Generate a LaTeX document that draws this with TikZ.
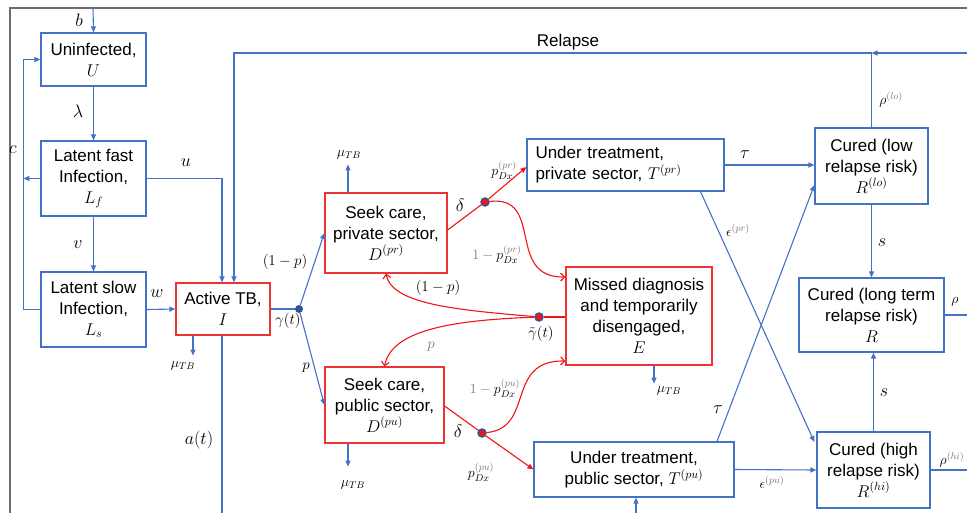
\RequirePackage{fix-cm}
\documentclass[tikz,border=0pt]{standalone}
\usepackage[no-math]{fontspec}
\setmainfont{Liberation Sans}
\usetikzlibrary{arrows.meta}
\definecolor{tbblue}{RGB}{68,114,196}
\definecolor{tbred}{RGB}{236,52,52}
\definecolor{lnred}{RGB}{240,20,20}
\definecolor{labbrown}{RGB}{140,112,112}
\definecolor{dotblue}{RGB}{47,85,151}
\definecolor{framegray}{RGB}{110,110,110}
\newcommand\boxfont{\fontsize{17}{21}\selectfont}
\newcommand\labfont{\fontsize{18}{20}\selectfont}
\newcommand\midfont{\fontsize{15}{17}\selectfont}
\newcommand\smlfont{\fontsize{14}{16}\selectfont}
\newcommand\br[1]{{\color{labbrown}#1}}
\begin{document}
\begin{tikzpicture}[x=1pt,y=-1pt,
  box/.style={draw=tbblue, line width=1.2pt, align=center, font=\boxfont, inner sep=2pt, text=black},
  rbox/.style={box, draw=tbred},
  bl/.style={draw=tbblue, line width=1.1pt},
  ar/.style={bl, -{Triangle[length=6pt,width=5pt]}},
  rl/.style={draw=lnred, line width=1.1pt},
  rar/.style={rl, -{Triangle[length=6pt,width=5pt]}},
  rcar/.style={rl, -{Straight Barb[length=4pt,width=8pt]}},
  dot/.style={circle, fill=dotblue, inner sep=0pt, minimum size=8pt},
  rdot/.style={circle, draw=dotblue, fill=lnred, line width=1.4pt, inner sep=0pt, minimum size=8pt},
  lab/.style={font=\labfont, inner sep=0pt},
  mlab/.style={font=\midfont, inner sep=0pt},
  slab/.style={font=\smlfont, inner sep=0pt},
]
\useasboundingbox (0,0) rectangle (967,512);
\clip (0,0) rectangle (967,512);
\draw[framegray, line width=1.6pt] (10,520) -- (10,8) -- (970,8);

% boxes
\node[box, minimum width=105, minimum height=53] (U) at (93.5,59.5) {Uninfected,\\$U$};
\node[box, minimum width=105, minimum height=75] (Lf) at (93.5,178.5) {Latent fast\\Infection,\\$L_f$};
\node[box, minimum width=105, minimum height=75] (Ls) at (93.5,309.5) {Latent slow\\Infection,\\$L_s$};
\node[rbox, minimum width=94, minimum height=52] (I) at (223,309) {Active TB,\\$I$};
\node[rbox, minimum width=122, minimum height=80] (Dpr) at (386,233) {Seek care,\\private sector,\\$D^{(pr)}$};
\node[rbox, minimum width=119, minimum height=76] (Dpu) at (384.5,405) {Seek care,\\public sector,\\$D^{(pu)}$};
\node[rbox, minimum width=146, minimum height=98] (E) at (639,316) {Missed diagnosis\\and temporarily\\disengaged,\\$E$};
\node[box, minimum width=197, minimum height=52, align=left, text width=180] (Tpr) at (625.5,165) {Under treatment,\\private sector, $T^{(pr)}$};
\node[box, minimum width=200, minimum height=55] (Tpu) at (634,469.5) {Under treatment,\\public sector, $T^{(pu)}$};
\node[box, minimum width=113, minimum height=76] (Rlo) at (871.5,166) {Cured (low\\relapse risk)\\$R^{(lo)}$};
\node[box, minimum width=145, minimum height=74] (R) at (871.5,315) {Cured (long term\\relapse risk)\\$R$};
\node[box, minimum width=113, minimum height=76] (Rhi) at (873.5,470) {Cured (high\\relapse risk)\\$R^{(hi)}$};

% free ends
\coordinate (btop) at (93,8);
\coordinate (rel) at (970,53);
\coordinate (tpin) at (636,515);

% left column
\draw[ar] (btop) -- (U.north);
\node[lab] (lb) at (79,20) {$b$};
\draw[ar] (U) -- (Lf);
\node[lab] (llam) at (78,111) {$\lambda$};
\draw[ar] (Lf) -- (Ls);
\node[lab] (lv) at (78,245) {$v$};
\draw[ar] (Ls.west) -- ++(-17,0) |- (U.west);
\draw[ar] (Lf.west) -- ++(-17,0);
\node[lab] (lc) at (13,150) {$c$};
\draw[ar] (Lf.east) -| ([xshift=-1pt]I.north);
\node[lab] (lu) at (186,163) {$u$};
\draw[ar] (Ls.east) -- (I.west);
\node[lab] (lw) at (157,294) {$w$};

% relapse
\draw[ar] (rel) -- (Rlo.north |- rel);
\draw[ar] (Rlo.north) -- (Rlo.north |- rel) -| ([xshift=11pt]I.north);
\node[font=\boxfont, inner sep=0pt] (lrel) at (568,42) {Relapse};
\node[slab] (lrlo) at (891,100) {$\rho^{\br{(lo)}}$};

% active TB outflows
\draw[ar] ([xshift=-30pt]I.south) -- ++(0,20);
\node[slab] (lmu1) at (183,366) {$\mu_{TB}$};
\draw[bl] ([xshift=-1pt]I.south) -- ++(0,190);
\node[lab] (lat) at (199,440) {$a(t)$};
\node[dot] (g) at (299,309) {};
\draw[bl] (I.east) -- (g);
\draw[ar] (g) -- (Dpr.west);
\draw[ar] (g) -- (Dpu.west);
\node[mlab] (lgam) at (288,321) {$\gamma(t)$};
\node[mlab] (l1p) at (285,262) {$(1-p)$};
\node[mlab] (lp) at (306,368) {$p$};

% seek care mortality
\draw[ar] ([xshift=-38pt]Dpr.north) -- ++(0,-28);
\node[slab] (lmu2) at (349,155) {$\mu_{TB}$};
\draw[ar] ([xshift=-36.5pt]Dpu.south) -- ++(0,23);
\node[slab] (lmu3) at (353,485) {$\mu_{TB}$};
\draw[ar] ([xshift=15pt]E.south) -- ++(0,18);
\node[slab] (lmu4) at (669,391) {$\mu_{TB}$};

% private diagnosis branch
\node[rdot] (dpr) at (485,202) {};
\draw[rl] ([yshift=3pt]Dpr.east) -- (dpr);
\draw[rar] (dpr) -- ([yshift=-2pt]Tpr.west);
\draw[rcar] (dpr) .. controls (545,195) and (505,278) .. ([yshift=39pt]E.west);
\node[lab] (ld1) at (460,205) {$\delta$};
\node[slab] (lpdx1) at (504,170) {$p_{Dx}^{\br{(pr)}}$};
\node[slab] (lnpdx1) at (497,254) {$\br{1-{}}p_{Dx}^{\br{(pr)}}$};

% return from E
\node[rdot] (gt) at (539,317) {};
\draw[rl] (E.west |- gt) -- (gt);
\draw[rcar] (gt) .. controls (460,310) and (392,305) .. (Dpr.south);
\draw[rcar] (gt) .. controls (460,320) and (392,328) .. (Dpu.north);
\node[mlab] (l1p2) at (438,288) {$(1-p)$};
\node[mlab] (lp2) at (431,347) {$\br{p}$};
\node[mlab] (lgt) at (541,334) {$\tilde{\gamma}(t)$};

% public diagnosis branch
\node[rdot] (dpu) at (482,433) {};
\draw[rl] ([yshift=-1pt]Dpu.east) -- (dpu);
\draw[rar] (dpu) -- (Tpu.west);
\draw[rcar] (dpu) .. controls (535,428) and (505,360) .. ([yshift=-45pt]E.west);
\node[lab] (ld2) at (458,431) {$\delta$};
\node[slab] (lpdx2) at (481,472) {$p_{Dx}^{\br{(pu)}}$};
\node[slab] (lnpdx2) at (495,388) {$\br{1-{}}p_{Dx}^{\br{(pu)}}$};

% treatment outcomes
\draw[ar] (Tpr.east) -- (Rlo.west |- Tpr.east);
\node[lab] (ltau1) at (745,155) {$\tau$};
\draw[ar] ([xshift=75pt]Tpr.south) -- ([xshift=-2pt,yshift=28pt]Rhi.west);
\node[slab] (leps1) at (738,230) {$\epsilon^{\br{(pr)}}$};
\draw[ar] ([xshift=83pt]Tpu.north) -- ([yshift=-19pt]Rlo.west);
\node[lab] (ltau2) at (718,410) {$\tau$};
\draw[ar] (Tpu.east) -- (Rhi.west);
\node[slab] (leps2) at (772,482) {$\epsilon^{\br{(pu)}}$};
\draw[ar] (tpin) -- (tpin |- Tpu.south);

% cured transitions
\draw[ar] (Rlo.south) -- (R.north);
\node[lab] (ls1) at (882,243) {$s$};
\draw[ar] (Rhi.north) -- (Rhi.north |- R.south);
\node[lab] (ls2) at (884,393) {$s$};
\draw[bl] (R.east) -- ++(30,0);
\node[slab] (lrho) at (955,302) {$\rho$};
\draw[bl] (Rhi.east) -- ++(40,0);
\node[slab] (lrhi) at (952,460) {$\rho^{\br{(hi)}}$};
\end{tikzpicture}
\end{document}
